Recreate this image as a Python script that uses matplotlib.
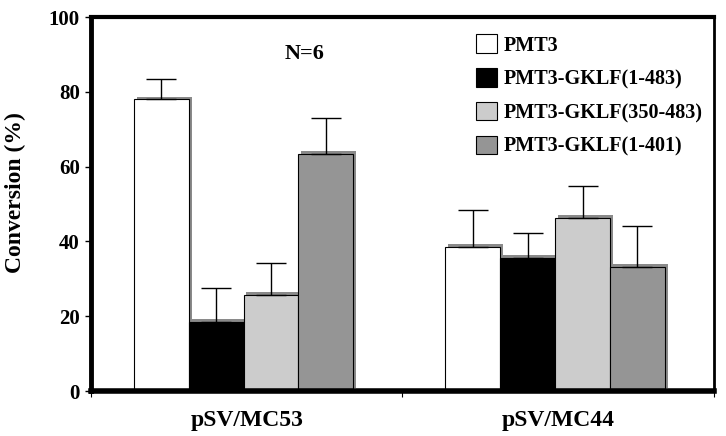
import matplotlib.pyplot as plt
import matplotlib.patheffects as pe
import numpy as np

plt.rcParams['font.family'] = ['Liberation Serif', 'DejaVu Serif']
plt.rcParams['font.weight'] = 'bold'

groups = ["pSV/MC53", "pSV/MC44"]
series = ["PMT3", "PMT3-GKLF(1-483)", "PMT3-GKLF(350-483)", "PMT3-GKLF(1-401)"]
means = [
    [78, 38.5],
    [18.4, 35.5],
    [25.7, 46.3],
    [63.4, 33.2],
]
errors = [
    [5.5, 10],
    [9.2, 6.8],
    [8.4, 8.4],
    [9.7, 11],
]
colors = ["white", "black", "#cccccc", "#959595"]
yticks = [0, 20, 40, 60, 80, 100]

fig = plt.figure(figsize=(7.26, 4.36), dpi=100)
ax = fig.add_axes([0.1253, 0.1032, 0.8582, 0.8578])

x = np.arange(len(groups))
width = 0.176
shadow = [pe.SimplePatchShadow(offset=(2.0, 2.0), shadow_rgbFace="#8a8a8a", alpha=1.0), pe.Normal()]
all_bars = []
for i, (name, m, e, c) in enumerate(zip(series, means, errors, colors)):
    pos = x + (i - 1.5) * width - 0.01
    bars = ax.bar(pos, m, width, color=c, edgecolor="black", linewidth=0.8, label=name, zorder=2)
    all_bars.extend(bars)
    ax.errorbar(pos, m, yerr=[np.zeros(len(m)), e], fmt="none", ecolor="black",
                elinewidth=1.0, capsize=11, capthick=1.0, zorder=3)

ax.set_xlim(-0.5, 1.5)
ax.set_ylim(0, 100)
ax.set_yticks(yticks)
ax.set_yticklabels([str(t) for t in yticks], fontsize=15, fontweight="bold")
ax.set_xticks(x)
ax.set_xticklabels(groups, fontsize=17, fontweight="bold")
ax.tick_params(axis="x", length=0, pad=14)
ax.set_xticks([-0.5, 0.5, 1.5], minor=True)
ax.tick_params(axis="x", which="minor", length=4, width=0.8, direction="out")
ax.tick_params(axis="y", length=4, width=1, direction="out", pad=4)
ax.set_ylabel("Conversion (%)", fontsize=17, fontweight="bold")
ax.yaxis.set_label_coords(-0.105, 0.53)

for side, lw in [("left", 3.5), ("bottom", 4), ("top", 3), ("right", 2)]:
    ax.spines[side].set_linewidth(lw)
    ax.spines[side].set_color("black")

ax.text(0.343, 0.9, "N=6", transform=ax.transAxes, ha="center", va="center",
        fontsize=16, fontweight="bold")

ax.legend(loc="upper left", bbox_to_anchor=(0.605, 0.975), frameon=False,
          handlelength=1.05, handleheight=1.05, labelspacing=0.62, handletextpad=0.35,
          borderaxespad=0, prop={"weight": "bold", "size": 14.5})

for b in all_bars:
    b.set_path_effects(shadow)

fig.savefig("out.png", dpi=100)
